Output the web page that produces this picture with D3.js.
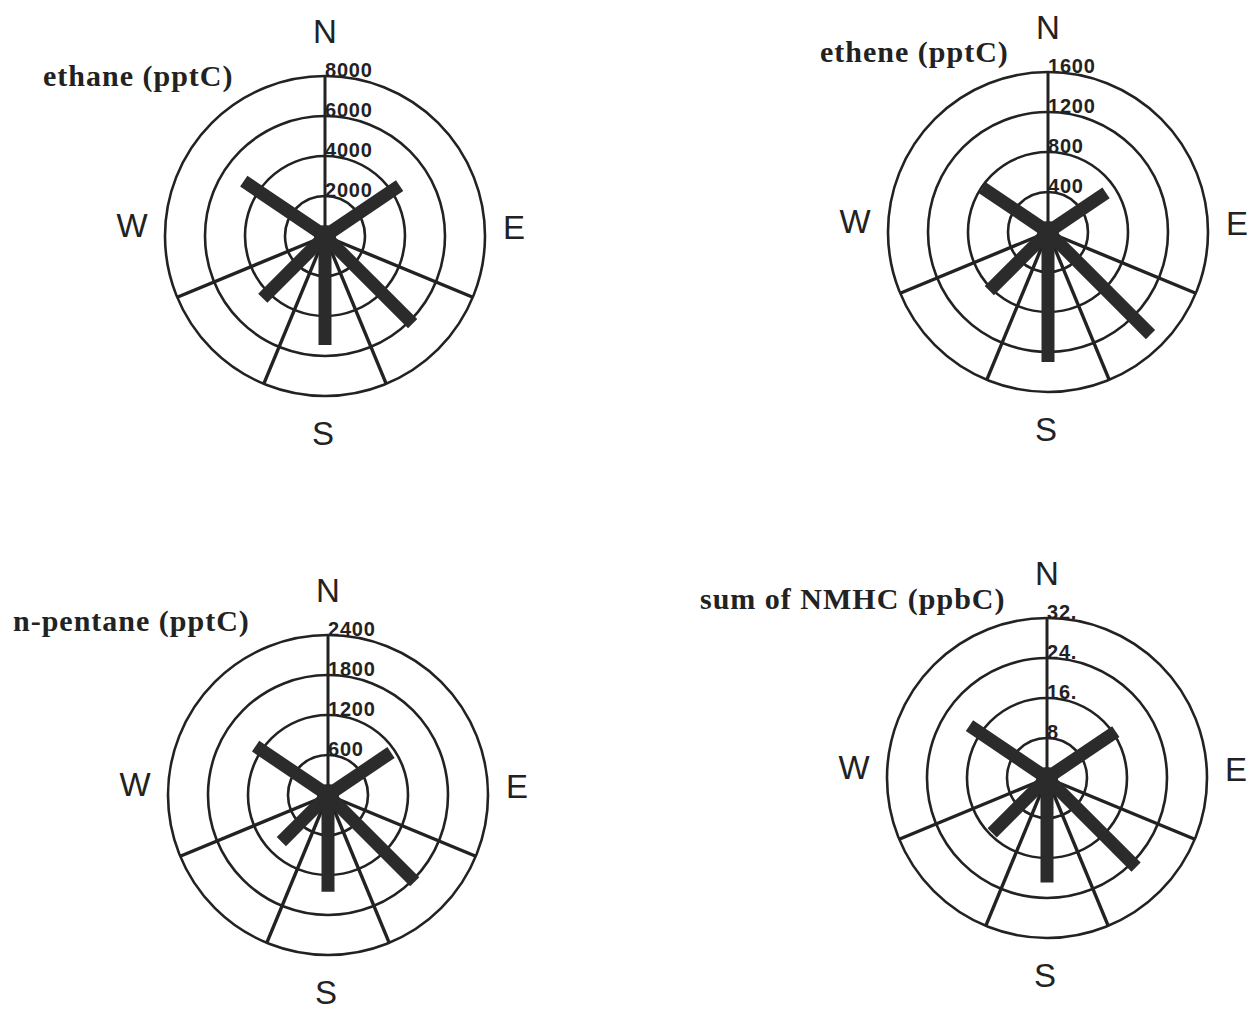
<!DOCTYPE html>
<html lang="en">
<head>
    <title>Wind roses of NMHC</title>
    <script src="https://d3js.org/d3.v7.min.js"></script>
    <style>
        body {
            margin: 0;
            background: white;
        }
        .title {
            font-family: 'Liberation Serif', 'Times New Roman', serif;
            font-weight: bold;
            font-size: 30px;
            letter-spacing: 1px;
            fill: #222;
        }
        .compass {
            font-family: 'Liberation Sans', Arial, sans-serif;
            font-size: 33px;
            fill: #222;
        }
        .ring-label {
            font-family: 'Liberation Sans', Arial, sans-serif;
            font-weight: bold;
            font-size: 20px;
            letter-spacing: 0.8px;
            fill: #222;
        }
    </style>
</head>
<body>
    <div id="chart"></div>

    <script>
        // bar directions (degrees clockwise from north)
        const directions = ["NW", "NE", "SW", "S", "SE"];
        const bearings = [304, 56, 225, 180, 135];

        // sector boundary lines drawn on each rose
        const sectorLines = [112.5, 157.5, 202.5, 247.5];

        const ethane = [4900, 4500, 4400, 5450, 6200];
        const ethene = [790, 700, 830, 1300, 1450];
        const pentane = [1310, 1140, 990, 1450, 1840];
        const nmhc = [18.7, 16.6, 15.5, 20.9, 25.2];

        const ethaneTicks = [2000, 4000, 6000, 8000];
        const etheneTicks = [400, 800, 1200, 1600];
        const pentaneTicks = [600, 1200, 1800, 2400];
        const nmhcTicks = [8, 16, 24, 32];
        const nmhcTickLabels = ["8", "16.", "24.", "32."];

        const roses = [
            {title: "ethane (pptC)", values: ethane, ticks: ethaneTicks, labels: ethaneTicks.map(String),
             cx: 325, cy: 236, tx: 43, ty: 86},
            {title: "ethene (pptC)", values: ethene, ticks: etheneTicks, labels: etheneTicks.map(String),
             cx: 1048, cy: 232, tx: 820, ty: 62},
            {title: "n-pentane (pptC)", values: pentane, ticks: pentaneTicks, labels: pentaneTicks.map(String),
             cx: 328, cy: 795, tx: 13, ty: 631},
            {title: "sum of NMHC (ppbC)", values: nmhc, ticks: nmhcTicks, labels: nmhcTickLabels,
             cx: 1047, cy: 778, tx: 700, ty: 609}
        ];

        const width = 1257, height = 1011;
        const R = 160;
        const rad = d => d * Math.PI / 180;

        const svg = d3.select("#chart")
            .append("svg")
            .attr("width", width)
            .attr("height", height);

        roses.forEach(rose => {
            const r = d3.scaleLinear()
                .domain([0, d3.max(rose.ticks)])
                .range([0, R]);

            const g = svg.append("g")
                .attr("transform", `translate(${rose.cx},${rose.cy})`);

            // rings
            g.selectAll(".ring")
                .data(rose.ticks)
                .enter()
                .append("circle")
                .attr("r", d => r(d))
                .attr("fill", "none")
                .attr("stroke", "#222")
                .attr("stroke-width", 2.6);

            // sector lines
            g.selectAll(".sector")
                .data(sectorLines)
                .enter()
                .append("line")
                .attr("x1", 0).attr("y1", 0)
                .attr("x2", d => d3.pointRadial(rad(d), R)[0])
                .attr("y2", d => d3.pointRadial(rad(d), R)[1])
                .attr("stroke", "#222")
                .attr("stroke-width", 3.4);

            // north axis
            g.append("line")
                .attr("x1", 0).attr("y1", 0)
                .attr("x2", 0).attr("y2", -R)
                .attr("stroke", "#222")
                .attr("stroke-width", 3);

            // bars
            g.selectAll(".bar")
                .data(rose.values)
                .enter()
                .append("line")
                .attr("x1", 0).attr("y1", 0)
                .attr("x2", (d, i) => d3.pointRadial(rad(bearings[i]), r(d))[0])
                .attr("y2", (d, i) => d3.pointRadial(rad(bearings[i]), r(d))[1])
                .attr("stroke", "#2b2b2b")
                .attr("stroke-width", 13)
                .attr("stroke-linecap", "butt");

            g.append("circle")
                .attr("r", 11)
                .attr("fill", "#2b2b2b");

            // ring labels
            g.selectAll(".ring-label")
                .data(rose.ticks)
                .enter()
                .append("text")
                .attr("class", "ring-label")
                .attr("x", 0)
                .attr("y", d => -r(d) + 1)
                .text((d, i) => rose.labels[i]);

            // compass letters
            const compass = [
                {t: "N", x: 0, y: -205},
                {t: "S", x: -2, y: 197},
                {t: "W", x: -193, y: -11},
                {t: "E", x: 189, y: -9}
            ];
            g.selectAll(".compass")
                .data(compass)
                .enter()
                .append("text")
                .attr("class", "compass")
                .attr("x", d => d.x)
                .attr("y", d => d.y)
                .attr("text-anchor", "middle")
                .attr("dominant-baseline", "central")
                .text(d => d.t);

            svg.append("text")
                .attr("class", "title")
                .attr("x", rose.tx)
                .attr("y", rose.ty)
                .text(rose.title);
        });
    </script>
</body>
</html>
